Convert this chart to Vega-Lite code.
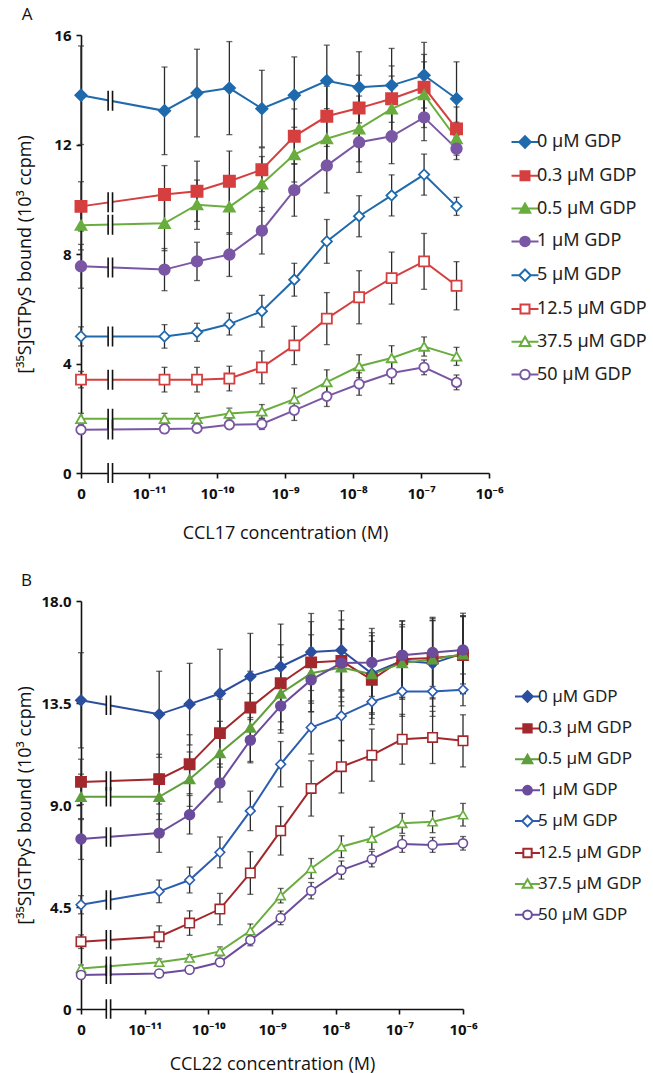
{
"$schema":"https://vega.github.io/schema/vega-lite/v6.json",
"background":"white",
"padding":{"left":16,"top":6,"right":0,"bottom":0},
"config":{"view":{"stroke":null},"font":"Open Sans",
"axis":{"domainColor":"#111","tickColor":"#111","domainWidth":1.6,"tickWidth":1.6,"tickSize":5,"grid":false,"labelFont":"Noto Sans","labelFontWeight":"bold","labelFontSize":15,"labelColor":"#111","titleFont":"Open Sans","titleFontWeight":"normal","titleFontSize":18,"titleColor":"#111","labelFlush":false},
"title":{"font":"Open Sans","fontSize":17,"fontWeight":"normal","anchor":"start","frame":"bounds","color":"#111","offset":0,"dx":5}},
"datasets":{
"pts":[
{"p":"A","g":"0 µM GDP","c":1e-12,"m":13.8,"e":1.8},{"p":"A","g":"0 µM GDP","c":1.69e-11,"m":13.23,"e":1.6},{"p":"A","g":"0 µM GDP","c":5.08e-11,"m":13.88,"e":1.6},{"p":"A","g":"0 µM GDP","c":1.52e-10,"m":14.06,"e":1.7},{"p":"A","g":"0 µM GDP","c":4.57e-10,"m":13.31,"e":1.4},{"p":"A","g":"0 µM GDP","c":1.37e-9,"m":13.8,"e":1.4},{"p":"A","g":"0 µM GDP","c":4.12e-9,"m":14.33,"e":1.3},{"p":"A","g":"0 µM GDP","c":1.23e-8,"m":14.09,"e":1.3},{"p":"A","g":"0 µM GDP","c":3.7e-8,"m":14.16,"e":1.35},{"p":"A","g":"0 µM GDP","c":1.11e-7,"m":14.53,"e":1.2},{"p":"A","g":"0 µM GDP","c":3.33e-7,"m":13.67,"e":1.35},
{"p":"A","g":"0.3 µM GDP","c":1e-12,"m":9.74,"e":0.9},{"p":"A","g":"0.3 µM GDP","c":1.69e-11,"m":10.17,"e":1.06},{"p":"A","g":"0.3 µM GDP","c":5.08e-11,"m":10.29,"e":1.1},{"p":"A","g":"0.3 µM GDP","c":1.52e-10,"m":10.66,"e":1.1},{"p":"A","g":"0.3 µM GDP","c":4.57e-10,"m":11.08,"e":0.8},{"p":"A","g":"0.3 µM GDP","c":1.37e-9,"m":12.3,"e":1.0},{"p":"A","g":"0.3 µM GDP","c":4.12e-9,"m":13.03,"e":1.1},{"p":"A","g":"0.3 µM GDP","c":1.23e-8,"m":13.33,"e":1.2},{"p":"A","g":"0.3 µM GDP","c":3.7e-8,"m":13.67,"e":1.2},{"p":"A","g":"0.3 µM GDP","c":1.11e-7,"m":14.09,"e":1.2},{"p":"A","g":"0.3 µM GDP","c":3.33e-7,"m":12.57,"e":0.8},
{"p":"A","g":"0.5 µM GDP","c":1e-12,"m":9.05,"e":0.9},{"p":"A","g":"0.5 µM GDP","c":1.69e-11,"m":9.12,"e":1.0},{"p":"A","g":"0.5 µM GDP","c":5.08e-11,"m":9.8,"e":0.9},{"p":"A","g":"0.5 µM GDP","c":1.52e-10,"m":9.72,"e":1.0},{"p":"A","g":"0.5 µM GDP","c":4.57e-10,"m":10.56,"e":1.0},{"p":"A","g":"0.5 µM GDP","c":1.37e-9,"m":11.63,"e":1.0},{"p":"A","g":"0.5 µM GDP","c":4.12e-9,"m":12.21,"e":1.1},{"p":"A","g":"0.5 µM GDP","c":1.23e-8,"m":12.57,"e":1.2},{"p":"A","g":"0.5 µM GDP","c":3.7e-8,"m":13.3,"e":1.2},{"p":"A","g":"0.5 µM GDP","c":1.11e-7,"m":13.82,"e":1.2},{"p":"A","g":"0.5 µM GDP","c":3.33e-7,"m":12.21,"e":0.6},
{"p":"A","g":"1 µM GDP","c":1e-12,"m":7.55,"e":0.8},{"p":"A","g":"1 µM GDP","c":1.69e-11,"m":7.43,"e":0.77},{"p":"A","g":"1 µM GDP","c":5.08e-11,"m":7.73,"e":0.7},{"p":"A","g":"1 µM GDP","c":1.52e-10,"m":7.98,"e":0.8},{"p":"A","g":"1 µM GDP","c":4.57e-10,"m":8.85,"e":0.85},{"p":"A","g":"1 µM GDP","c":1.37e-9,"m":10.33,"e":0.95},{"p":"A","g":"1 µM GDP","c":4.12e-9,"m":11.23,"e":1.0},{"p":"A","g":"1 µM GDP","c":1.23e-8,"m":12.08,"e":1.1},{"p":"A","g":"1 µM GDP","c":3.7e-8,"m":12.3,"e":1.0},{"p":"A","g":"1 µM GDP","c":1.11e-7,"m":12.99,"e":0.85},{"p":"A","g":"1 µM GDP","c":3.33e-7,"m":11.85,"e":0.4},
{"p":"A","g":"5 µM GDP","c":1e-12,"m":4.99,"e":0.35},{"p":"A","g":"5 µM GDP","c":1.69e-11,"m":4.99,"e":0.43},{"p":"A","g":"5 µM GDP","c":5.08e-11,"m":5.14,"e":0.33},{"p":"A","g":"5 µM GDP","c":1.52e-10,"m":5.44,"e":0.4},{"p":"A","g":"5 µM GDP","c":4.57e-10,"m":5.91,"e":0.58},{"p":"A","g":"5 µM GDP","c":1.37e-9,"m":7.06,"e":0.6},{"p":"A","g":"5 µM GDP","c":4.12e-9,"m":8.46,"e":0.8},{"p":"A","g":"5 µM GDP","c":1.23e-8,"m":9.38,"e":0.75},{"p":"A","g":"5 µM GDP","c":3.7e-8,"m":10.14,"e":0.75},{"p":"A","g":"5 µM GDP","c":1.11e-7,"m":10.9,"e":0.75},{"p":"A","g":"5 µM GDP","c":3.33e-7,"m":9.74,"e":0.33},
{"p":"A","g":"12.5 µM GDP","c":1e-12,"m":3.41,"e":0.3},{"p":"A","g":"12.5 µM GDP","c":1.69e-11,"m":3.41,"e":0.45},{"p":"A","g":"12.5 µM GDP","c":5.08e-11,"m":3.41,"e":0.45},{"p":"A","g":"12.5 µM GDP","c":1.52e-10,"m":3.45,"e":0.45},{"p":"A","g":"12.5 µM GDP","c":4.57e-10,"m":3.86,"e":0.6},{"p":"A","g":"12.5 µM GDP","c":1.37e-9,"m":4.66,"e":0.7},{"p":"A","g":"12.5 µM GDP","c":4.12e-9,"m":5.64,"e":0.95},{"p":"A","g":"12.5 µM GDP","c":1.23e-8,"m":6.42,"e":0.97},{"p":"A","g":"12.5 µM GDP","c":3.7e-8,"m":7.12,"e":0.95},{"p":"A","g":"12.5 µM GDP","c":1.11e-7,"m":7.73,"e":1.02},{"p":"A","g":"12.5 µM GDP","c":3.33e-7,"m":6.84,"e":0.88},
{"p":"A","g":"37.5 µM GDP","c":1e-12,"m":1.98,"e":0.2},{"p":"A","g":"37.5 µM GDP","c":1.69e-11,"m":1.98,"e":0.2},{"p":"A","g":"37.5 µM GDP","c":5.08e-11,"m":1.98,"e":0.2},{"p":"A","g":"37.5 µM GDP","c":1.52e-10,"m":2.17,"e":0.2},{"p":"A","g":"37.5 µM GDP","c":4.57e-10,"m":2.25,"e":0.25},{"p":"A","g":"37.5 µM GDP","c":1.37e-9,"m":2.7,"e":0.4},{"p":"A","g":"37.5 µM GDP","c":4.12e-9,"m":3.32,"e":0.45},{"p":"A","g":"37.5 µM GDP","c":1.23e-8,"m":3.9,"e":0.42},{"p":"A","g":"37.5 µM GDP","c":3.7e-8,"m":4.2,"e":0.45},{"p":"A","g":"37.5 µM GDP","c":1.11e-7,"m":4.62,"e":0.35},{"p":"A","g":"37.5 µM GDP","c":3.33e-7,"m":4.26,"e":0.33},
{"p":"A","g":"50 µM GDP","c":1e-12,"m":1.58,"e":0.15},{"p":"A","g":"50 µM GDP","c":1.69e-11,"m":1.61,"e":0.15},{"p":"A","g":"50 µM GDP","c":5.08e-11,"m":1.63,"e":0.15},{"p":"A","g":"50 µM GDP","c":1.52e-10,"m":1.76,"e":0.15},{"p":"A","g":"50 µM GDP","c":4.57e-10,"m":1.79,"e":0.2},{"p":"A","g":"50 µM GDP","c":1.37e-9,"m":2.29,"e":0.37},{"p":"A","g":"50 µM GDP","c":4.12e-9,"m":2.8,"e":0.37},{"p":"A","g":"50 µM GDP","c":1.23e-8,"m":3.25,"e":0.41},{"p":"A","g":"50 µM GDP","c":3.7e-8,"m":3.65,"e":0.39},{"p":"A","g":"50 µM GDP","c":1.11e-7,"m":3.86,"e":0.27},{"p":"A","g":"50 µM GDP","c":3.33e-7,"m":3.31,"e":0.27},
{"p":"B","g":"0 µM GDP","c":1e-12,"m":13.62,"e":2.1},{"p":"B","g":"0 µM GDP","c":1.69e-11,"m":13.0,"e":1.9},{"p":"B","g":"0 µM GDP","c":5.08e-11,"m":13.45,"e":1.8},{"p":"B","g":"0 µM GDP","c":1.52e-10,"m":13.92,"e":1.95},{"p":"B","g":"0 µM GDP","c":4.57e-10,"m":14.67,"e":1.9},{"p":"B","g":"0 µM GDP","c":1.37e-9,"m":15.1,"e":1.88},{"p":"B","g":"0 µM GDP","c":4.12e-9,"m":15.75,"e":1.7},{"p":"B","g":"0 µM GDP","c":1.23e-8,"m":15.83,"e":1.74},{"p":"B","g":"0 µM GDP","c":3.7e-8,"m":14.8,"e":1.8},{"p":"B","g":"0 µM GDP","c":1.11e-7,"m":15.36,"e":1.6},{"p":"B","g":"0 µM GDP","c":3.33e-7,"m":15.25,"e":1.9},{"p":"B","g":"0 µM GDP","c":1e-6,"m":15.69,"e":1.77},
{"p":"B","g":"0.3 µM GDP","c":1e-12,"m":10.02,"e":1.0},{"p":"B","g":"0.3 µM GDP","c":1.69e-11,"m":10.14,"e":1.1},{"p":"B","g":"0.3 µM GDP","c":5.08e-11,"m":10.8,"e":1.3},{"p":"B","g":"0.3 µM GDP","c":1.52e-10,"m":12.17,"e":1.5},{"p":"B","g":"0.3 µM GDP","c":4.57e-10,"m":13.3,"e":1.6},{"p":"B","g":"0.3 µM GDP","c":1.37e-9,"m":14.37,"e":1.7},{"p":"B","g":"0.3 µM GDP","c":4.12e-9,"m":15.29,"e":1.8},{"p":"B","g":"0.3 µM GDP","c":1.23e-8,"m":15.36,"e":1.8},{"p":"B","g":"0.3 µM GDP","c":3.7e-8,"m":14.52,"e":1.7},{"p":"B","g":"0.3 µM GDP","c":1.11e-7,"m":15.43,"e":1.7},{"p":"B","g":"0.3 µM GDP","c":3.33e-7,"m":15.48,"e":1.8},{"p":"B","g":"0.3 µM GDP","c":1e-6,"m":15.61,"e":1.7},
{"p":"B","g":"0.5 µM GDP","c":1e-12,"m":9.36,"e":1.0},{"p":"B","g":"0.5 µM GDP","c":1.69e-11,"m":9.36,"e":1.0},{"p":"B","g":"0.5 µM GDP","c":5.08e-11,"m":10.14,"e":1.2},{"p":"B","g":"0.5 µM GDP","c":1.52e-10,"m":11.29,"e":1.4},{"p":"B","g":"0.5 µM GDP","c":4.57e-10,"m":12.42,"e":1.5},{"p":"B","g":"0.5 µM GDP","c":1.37e-9,"m":13.92,"e":1.6},{"p":"B","g":"0.5 µM GDP","c":4.12e-9,"m":14.81,"e":1.7},{"p":"B","g":"0.5 µM GDP","c":1.23e-8,"m":15.07,"e":1.7},{"p":"B","g":"0.5 µM GDP","c":3.7e-8,"m":14.77,"e":1.7},{"p":"B","g":"0.5 µM GDP","c":1.11e-7,"m":15.26,"e":1.6},{"p":"B","g":"0.5 µM GDP","c":3.33e-7,"m":15.43,"e":1.7},{"p":"B","g":"0.5 µM GDP","c":1e-6,"m":15.65,"e":1.7},
{"p":"B","g":"1 µM GDP","c":1e-12,"m":7.5,"e":0.9},{"p":"B","g":"1 µM GDP","c":1.69e-11,"m":7.76,"e":0.85},{"p":"B","g":"1 µM GDP","c":5.08e-11,"m":8.57,"e":0.85},{"p":"B","g":"1 µM GDP","c":1.52e-10,"m":9.97,"e":0.84},{"p":"B","g":"1 µM GDP","c":4.57e-10,"m":11.86,"e":1.0},{"p":"B","g":"1 µM GDP","c":1.37e-9,"m":13.37,"e":1.2},{"p":"B","g":"1 µM GDP","c":4.12e-9,"m":14.52,"e":1.4},{"p":"B","g":"1 µM GDP","c":1.23e-8,"m":15.26,"e":1.5},{"p":"B","g":"1 µM GDP","c":3.7e-8,"m":15.29,"e":1.5},{"p":"B","g":"1 µM GDP","c":1.11e-7,"m":15.61,"e":1.5},{"p":"B","g":"1 µM GDP","c":3.33e-7,"m":15.73,"e":1.5},{"p":"B","g":"1 µM GDP","c":1e-6,"m":15.84,"e":1.5},
{"p":"B","g":"5 µM GDP","c":1e-12,"m":4.6,"e":0.4},{"p":"B","g":"5 µM GDP","c":1.69e-11,"m":5.19,"e":0.5},{"p":"B","g":"5 µM GDP","c":5.08e-11,"m":5.69,"e":0.57},{"p":"B","g":"5 µM GDP","c":1.52e-10,"m":6.91,"e":0.68},{"p":"B","g":"5 µM GDP","c":4.57e-10,"m":8.74,"e":0.87},{"p":"B","g":"5 µM GDP","c":1.37e-9,"m":10.8,"e":1.0},{"p":"B","g":"5 µM GDP","c":4.12e-9,"m":12.42,"e":1.17},{"p":"B","g":"5 µM GDP","c":1.23e-8,"m":12.93,"e":1.1},{"p":"B","g":"5 µM GDP","c":3.7e-8,"m":13.55,"e":1.0},{"p":"B","g":"5 µM GDP","c":1.11e-7,"m":14.01,"e":1.1},{"p":"B","g":"5 µM GDP","c":3.33e-7,"m":14.01,"e":1.1},{"p":"B","g":"5 µM GDP","c":1e-6,"m":14.08,"e":0.7},
{"p":"B","g":"12.5 µM GDP","c":1e-12,"m":2.97,"e":0.3},{"p":"B","g":"12.5 µM GDP","c":1.69e-11,"m":3.19,"e":0.48},{"p":"B","g":"12.5 µM GDP","c":5.08e-11,"m":3.79,"e":0.54},{"p":"B","g":"12.5 µM GDP","c":1.52e-10,"m":4.41,"e":0.69},{"p":"B","g":"12.5 µM GDP","c":4.57e-10,"m":6.0,"e":0.94},{"p":"B","g":"12.5 µM GDP","c":1.37e-9,"m":7.86,"e":1.07},{"p":"B","g":"12.5 µM GDP","c":4.12e-9,"m":9.73,"e":1.22},{"p":"B","g":"12.5 µM GDP","c":1.23e-8,"m":10.69,"e":1.16},{"p":"B","g":"12.5 µM GDP","c":3.7e-8,"m":11.2,"e":1.15},{"p":"B","g":"12.5 µM GDP","c":1.11e-7,"m":11.9,"e":1.1},{"p":"B","g":"12.5 µM GDP","c":3.33e-7,"m":11.98,"e":1.15},{"p":"B","g":"12.5 µM GDP","c":1e-6,"m":11.83,"e":1.15},
{"p":"B","g":"37.5 µM GDP","c":1e-12,"m":1.79,"e":0.15},{"p":"B","g":"37.5 µM GDP","c":1.69e-11,"m":2.06,"e":0.15},{"p":"B","g":"37.5 µM GDP","c":5.08e-11,"m":2.25,"e":0.15},{"p":"B","g":"37.5 µM GDP","c":1.52e-10,"m":2.54,"e":0.2},{"p":"B","g":"37.5 µM GDP","c":4.57e-10,"m":3.45,"e":0.3},{"p":"B","g":"37.5 µM GDP","c":1.37e-9,"m":5.0,"e":0.32},{"p":"B","g":"37.5 µM GDP","c":4.12e-9,"m":6.2,"e":0.44},{"p":"B","g":"37.5 µM GDP","c":1.23e-8,"m":7.16,"e":0.48},{"p":"B","g":"37.5 µM GDP","c":3.7e-8,"m":7.53,"e":0.49},{"p":"B","g":"37.5 µM GDP","c":1.11e-7,"m":8.19,"e":0.44},{"p":"B","g":"37.5 µM GDP","c":3.33e-7,"m":8.26,"e":0.48},{"p":"B","g":"37.5 µM GDP","c":1e-6,"m":8.57,"e":0.5},
{"p":"B","g":"50 µM GDP","c":1e-12,"m":1.5,"e":0.12},{"p":"B","g":"50 µM GDP","c":1.69e-11,"m":1.57,"e":0.12},{"p":"B","g":"50 µM GDP","c":5.08e-11,"m":1.73,"e":0.12},{"p":"B","g":"50 µM GDP","c":1.52e-10,"m":2.06,"e":0.15},{"p":"B","g":"50 µM GDP","c":4.57e-10,"m":3.04,"e":0.25},{"p":"B","g":"50 µM GDP","c":1.37e-9,"m":4.02,"e":0.3},{"p":"B","g":"50 µM GDP","c":4.12e-9,"m":5.22,"e":0.36},{"p":"B","g":"50 µM GDP","c":1.23e-8,"m":6.13,"e":0.4},{"p":"B","g":"50 µM GDP","c":3.7e-8,"m":6.61,"e":0.34},{"p":"B","g":"50 µM GDP","c":1.11e-7,"m":7.28,"e":0.37},{"p":"B","g":"50 µM GDP","c":3.33e-7,"m":7.24,"e":0.33},{"p":"B","g":"50 µM GDP","c":1e-6,"m":7.31,"e":0.3}
],
"brk":[
{"p":"A","c":2.7e-12,"m":13.6},{"p":"A","c":2.7e-12,"m":9.89},{"p":"A","c":2.7e-12,"m":9.07},{"p":"A","c":2.7e-12,"m":7.51},{"p":"A","c":2.7e-12,"m":4.99},{"p":"A","c":2.7e-12,"m":3.41},{"p":"A","c":2.7e-12,"m":1.98},{"p":"A","c":2.7e-12,"m":1.59},{"p":"A","c":2.7e-12,"m":0},
{"p":"B","c":2.7e-12,"m":13.4},{"p":"B","c":2.7e-12,"m":10.06},{"p":"B","c":2.7e-12,"m":9.36},{"p":"B","c":2.7e-12,"m":7.59},{"p":"B","c":2.7e-12,"m":4.81},{"p":"B","c":2.7e-12,"m":3.05},{"p":"B","c":2.7e-12,"m":1.89},{"p":"B","c":2.7e-12,"m":1.53},{"p":"B","c":2.7e-12,"m":0}
]},
"columns":1,
"spacing":30,
"resolve":{"scale":{"stroke":"independent","fill":"independent","shape":"independent","size":"independent"}},
"concat":[
{"title":{"text":"A"},"width":408,"height":438,
"resolve":{"scale":{"stroke":"independent","fill":"independent","shape":"independent","size":"independent"}},
"layer":[
{"data":{"name":"pts"},"transform":[{"filter":"datum.p == 'A'"}],
"mark":{"type":"errorbar","ticks":true,"size":6,"thickness":1.3,"color":"#2a2a2a"},
"encoding":{"x":{"field":"c","type":"quantitative","scale":{"type":"log","domain":[1e-12,1e-6],"nice":false},"axis":{"values":[1e-12,1e-11,1e-10,1e-9,1e-8,1e-7,1e-6],"labelExpr":"datum.value < 5e-12 ? '0' : '10' + ['⁻¹¹','⁻¹⁰','⁻⁹','⁻⁸','⁻⁷','⁻⁶'][round(log(datum.value)/LN10)+11]","title":"CCL17 concentration (M)","labelPadding":8,"titlePadding":23}},
"y":{"field":"m","type":"quantitative","scale":{"domain":[0,16],"nice":false},"axis":{"values":[0,4,8,12,16],"title":"[³⁵S]GTPγS bound (10³ ccpm)","titlePadding":19,"labelPadding":5}},
"yError":{"field":"e"}}},
{"data":{"name":"pts"},"transform":[{"filter":"datum.p == 'A'"}],
"mark":{"type":"line","strokeWidth":2},
"encoding":{"x":{"field":"c","type":"quantitative","scale":{"type":"log","domain":[1e-12,1e-6],"nice":false}},"y":{"field":"m","type":"quantitative","scale":{"domain":[0,16],"nice":false}},
"stroke":{"field":"g","type":"nominal","scale":{"domain":["0 µM GDP","0.3 µM GDP","0.5 µM GDP","1 µM GDP","5 µM GDP","12.5 µM GDP","37.5 µM GDP","50 µM GDP"],"range":["#1f6aad","#d63f3f","#6aad3f","#7a57a4","#1f6aad","#d63f3f","#6aad3f","#7a57a4"]},"legend":null}}},
{"data":{"name":"brk"},"transform":[{"filter":"datum.p == 'A'"}],
"mark":{"type":"point","shape":"M-0.25,-0.4L0.25,-0.4L0.25,0.4L-0.25,0.4Z","size":400,"filled":true,"fill":"white","strokeWidth":0,"opacity":1},
"encoding":{"x":{"field":"c","type":"quantitative","scale":{"type":"log","domain":[1e-12,1e-6],"nice":false}},"y":{"field":"m","type":"quantitative","scale":{"domain":[0,16],"nice":false}}}},
{"data":{"name":"brk"},"transform":[{"filter":"datum.p == 'A'"}],
"mark":{"type":"point","shape":"M-0.22,-1L-0.22,1M0.22,-1L0.22,1","size":400,"filled":false,"stroke":"#111","strokeWidth":1.6,"opacity":1},
"encoding":{"x":{"field":"c","type":"quantitative","scale":{"type":"log","domain":[1e-12,1e-6],"nice":false}},"y":{"field":"m","type":"quantitative","scale":{"domain":[0,16],"nice":false}}}},
{"data":{"name":"pts"},"transform":[{"filter":"datum.p == 'A'"}],
"mark":{"type":"point","filled":true,"strokeWidth":1.8,"opacity":1},
"encoding":{"x":{"field":"c","type":"quantitative","scale":{"type":"log","domain":[1e-12,1e-6],"nice":false}},"y":{"field":"m","type":"quantitative","scale":{"domain":[0,16],"nice":false}},
"stroke":{"field":"g","type":"nominal","scale":{"domain":["0 µM GDP","0.3 µM GDP","0.5 µM GDP","1 µM GDP","5 µM GDP","12.5 µM GDP","37.5 µM GDP","50 µM GDP"],"range":["#1f6aad","#d63f3f","#6aad3f","#7a57a4","#1f6aad","#d63f3f","#6aad3f","#7a57a4"]},"legend":null},
"fill":{"field":"g","type":"nominal","scale":{"domain":["0 µM GDP","0.3 µM GDP","0.5 µM GDP","1 µM GDP","5 µM GDP","12.5 µM GDP","37.5 µM GDP","50 µM GDP"],"range":["#1f6aad","#d63f3f","#6aad3f","#7a57a4","#ffffff","#ffffff","#ffffff","#ffffff"]},"legend":null},
"shape":{"field":"g","type":"nominal","scale":{"domain":["0 µM GDP","0.3 µM GDP","0.5 µM GDP","1 µM GDP","5 µM GDP","12.5 µM GDP","37.5 µM GDP","50 µM GDP"],"range":["diamond","square","triangle-up","circle","diamond","square","triangle-up","circle"]},"legend":null},
"size":{"field":"g","type":"nominal","scale":{"domain":["0 µM GDP","0.3 µM GDP","0.5 µM GDP","1 µM GDP","5 µM GDP","12.5 µM GDP","37.5 µM GDP","50 µM GDP"],"range":[130,90,110,95,130,95,110,100]},"legend":null}}},
{"data":{"name":"pts"},"transform":[{"filter":"datum.p == 'A'"}],
"mark":{"type":"point","filled":true,"opacity":0,"size":100},
"encoding":{"x":{"field":"c","type":"quantitative","scale":{"type":"log","domain":[1e-12,1e-6],"nice":false}},"y":{"field":"m","type":"quantitative","scale":{"domain":[0,16],"nice":false}},
"stroke":{"field":"g","type":"nominal","scale":{"domain":["0 µM GDP","0.3 µM GDP","0.5 µM GDP","1 µM GDP","5 µM GDP","12.5 µM GDP","37.5 µM GDP","50 µM GDP"],"range":["#1f6aad","#d63f3f","#6aad3f","#7a57a4","#1f6aad","#d63f3f","#6aad3f","#7a57a4"]},"legend":{"orient":"none","legendX":435,"legendY":98,"title":null,"symbolSize":100,"symbolStrokeWidth":2,"symbolOpacity":1,"labelFont":"Noto Sans","labelFontSize":18,"labelColor":"#222","labelOffset":3,"rowPadding":14.8,"padding":0}},
"fill":{"field":"g","type":"nominal","scale":{"domain":["0 µM GDP","0.3 µM GDP","0.5 µM GDP","1 µM GDP","5 µM GDP","12.5 µM GDP","37.5 µM GDP","50 µM GDP"],"range":["#1f6aad","#d63f3f","#6aad3f","#7a57a4","#ffffff","#ffffff","#ffffff","#ffffff"]},"legend":{"orient":"none","legendX":435,"legendY":98,"title":null,"symbolSize":100,"symbolStrokeWidth":2,"symbolOpacity":1,"labelFont":"Noto Sans","labelFontSize":18,"labelColor":"#222","labelOffset":3,"rowPadding":14.8,"padding":0}},
"shape":{"field":"g","type":"nominal","scale":{"domain":["0 µM GDP","0.3 µM GDP","0.5 µM GDP","1 µM GDP","5 µM GDP","12.5 µM GDP","37.5 µM GDP","50 µM GDP"],"range":["M-2.7,0L-1.15,0M1.15,0L2.7,0M0,-1.15L1.15,0L0,1.15L-1.15,0Z","M-2.7,0L-0.9,0M0.9,0L2.7,0M-0.9,-0.9L0.9,-0.9L0.9,0.9L-0.9,0.9Z","M-2.7,0L-0.57,0M0.57,0L2.7,0M0,-1L1.05,0.85L-1.05,0.85Z","M-2.7,0L-0.95,0M0.95,0L2.7,0M-0.95,0A0.95,0.95,0,1,0,0.95,0A0.95,0.95,0,1,0,-0.95,0Z","M-2.7,0L-1.15,0M1.15,0L2.7,0M0,-1.15L1.15,0L0,1.15L-1.15,0Z","M-2.7,0L-0.9,0M0.9,0L2.7,0M-0.9,-0.9L0.9,-0.9L0.9,0.9L-0.9,0.9Z","M-2.7,0L-0.57,0M0.57,0L2.7,0M0,-1L1.05,0.85L-1.05,0.85Z","M-2.7,0L-0.95,0M0.95,0L2.7,0M-0.95,0A0.95,0.95,0,1,0,0.95,0A0.95,0.95,0,1,0,-0.95,0Z"]},"legend":{"orient":"none","legendX":435,"legendY":98,"title":null,"symbolSize":100,"symbolStrokeWidth":2,"symbolOpacity":1,"labelFont":"Noto Sans","labelFontSize":18,"labelColor":"#222","labelOffset":3,"rowPadding":14.8,"padding":0}}}}
]},
{"title":{"text":"B"},"width":382,"height":408,
"resolve":{"scale":{"stroke":"independent","fill":"independent","shape":"independent","size":"independent"}},
"layer":[
{"data":{"name":"pts"},"transform":[{"filter":"datum.p == 'B'"}],
"mark":{"type":"errorbar","ticks":true,"size":6,"thickness":1.3,"color":"#2a2a2a"},
"encoding":{"x":{"field":"c","type":"quantitative","scale":{"type":"log","domain":[1e-12,1e-6],"nice":false},"axis":{"values":[1e-12,1e-11,1e-10,1e-9,1e-8,1e-7,1e-6],"labelExpr":"datum.value < 5e-12 ? '0' : '10' + ['⁻¹¹','⁻¹⁰','⁻⁹','⁻⁸','⁻⁷','⁻⁶'][round(log(datum.value)/LN10)+11]","title":"CCL22 concentration (M)","labelPadding":8,"titlePadding":18}},
"y":{"field":"m","type":"quantitative","scale":{"domain":[0,18],"nice":false},"axis":{"values":[0,4.5,9,13.5,18],"labelExpr":"datum.value == 0 ? '0' : format(datum.value, '.1f')","title":"[³⁵S]GTPγS bound (10³ ccpm)","titlePadding":7,"labelPadding":5}},
"yError":{"field":"e"}}},
{"data":{"name":"pts"},"transform":[{"filter":"datum.p == 'B'"}],
"mark":{"type":"line","strokeWidth":2},
"encoding":{"x":{"field":"c","type":"quantitative","scale":{"type":"log","domain":[1e-12,1e-6],"nice":false}},"y":{"field":"m","type":"quantitative","scale":{"domain":[0,18],"nice":false}},
"stroke":{"field":"g","type":"nominal","scale":{"domain":["0 µM GDP","0.3 µM GDP","0.5 µM GDP","1 µM GDP","5 µM GDP","12.5 µM GDP","37.5 µM GDP","50 µM GDP"],"range":["#2b4f9e","#a3282d","#5f9e3a","#6b4c9c","#2b5db0","#a3282d","#6aad3f","#6b4c9c"]},"legend":null}}},
{"data":{"name":"brk"},"transform":[{"filter":"datum.p == 'B'"}],
"mark":{"type":"point","shape":"M-0.25,-0.4L0.25,-0.4L0.25,0.4L-0.25,0.4Z","size":380,"filled":true,"fill":"white","strokeWidth":0,"opacity":1},
"encoding":{"x":{"field":"c","type":"quantitative","scale":{"type":"log","domain":[1e-12,1e-6],"nice":false}},"y":{"field":"m","type":"quantitative","scale":{"domain":[0,18],"nice":false}}}},
{"data":{"name":"brk"},"transform":[{"filter":"datum.p == 'B'"}],
"mark":{"type":"point","shape":"M-0.22,-1L-0.22,1M0.22,-1L0.22,1","size":380,"filled":false,"stroke":"#111","strokeWidth":1.6,"opacity":1},
"encoding":{"x":{"field":"c","type":"quantitative","scale":{"type":"log","domain":[1e-12,1e-6],"nice":false}},"y":{"field":"m","type":"quantitative","scale":{"domain":[0,18],"nice":false}}}},
{"data":{"name":"pts"},"transform":[{"filter":"datum.p == 'B'"}],
"mark":{"type":"point","filled":true,"strokeWidth":1.6,"opacity":1},
"encoding":{"x":{"field":"c","type":"quantitative","scale":{"type":"log","domain":[1e-12,1e-6],"nice":false}},"y":{"field":"m","type":"quantitative","scale":{"domain":[0,18],"nice":false}},
"stroke":{"field":"g","type":"nominal","scale":{"domain":["0 µM GDP","0.3 µM GDP","0.5 µM GDP","1 µM GDP","5 µM GDP","12.5 µM GDP","37.5 µM GDP","50 µM GDP"],"range":["#2b4f9e","#a3282d","#5f9e3a","#6b4c9c","#2b5db0","#a3282d","#6aad3f","#6b4c9c"]},"legend":null},
"fill":{"field":"g","type":"nominal","scale":{"domain":["0 µM GDP","0.3 µM GDP","0.5 µM GDP","1 µM GDP","5 µM GDP","12.5 µM GDP","37.5 µM GDP","50 µM GDP"],"range":["#2b4f9e","#a3282d","#5f9e3a","#6b4c9c","#ffffff","#ffffff","#ffffff","#ffffff"]},"legend":null},
"shape":{"field":"g","type":"nominal","scale":{"domain":["0 µM GDP","0.3 µM GDP","0.5 µM GDP","1 µM GDP","5 µM GDP","12.5 µM GDP","37.5 µM GDP","50 µM GDP"],"range":["diamond","square","triangle-up","circle","diamond","square","triangle-up","circle"]},"legend":null},
"size":{"field":"g","type":"nominal","scale":{"domain":["0 µM GDP","0.3 µM GDP","0.5 µM GDP","1 µM GDP","5 µM GDP","12.5 µM GDP","37.5 µM GDP","50 µM GDP"],"range":[110,80,95,85,90,95,95,95]},"legend":null}}},
{"data":{"name":"pts"},"transform":[{"filter":"datum.p == 'B'"}],
"mark":{"type":"point","filled":true,"opacity":0,"size":86},
"encoding":{"x":{"field":"c","type":"quantitative","scale":{"type":"log","domain":[1e-12,1e-6],"nice":false}},"y":{"field":"m","type":"quantitative","scale":{"domain":[0,18],"nice":false}},
"stroke":{"field":"g","type":"nominal","scale":{"domain":["0 µM GDP","0.3 µM GDP","0.5 µM GDP","1 µM GDP","5 µM GDP","12.5 µM GDP","37.5 µM GDP","50 µM GDP"],"range":["#2b4f9e","#a3282d","#5f9e3a","#6b4c9c","#2b5db0","#a3282d","#6aad3f","#6b4c9c"]},"legend":{"orient":"none","legendX":438,"legendY":87,"title":null,"symbolSize":86,"symbolStrokeWidth":2,"symbolOpacity":1,"labelFont":"Noto Sans","labelFontSize":17,"labelColor":"#222","labelOffset":2,"rowPadding":12.9,"padding":0}},
"fill":{"field":"g","type":"nominal","scale":{"domain":["0 µM GDP","0.3 µM GDP","0.5 µM GDP","1 µM GDP","5 µM GDP","12.5 µM GDP","37.5 µM GDP","50 µM GDP"],"range":["#2b4f9e","#a3282d","#5f9e3a","#6b4c9c","#ffffff","#ffffff","#ffffff","#ffffff"]},"legend":{"orient":"none","legendX":438,"legendY":87,"title":null,"symbolSize":86,"symbolStrokeWidth":2,"symbolOpacity":1,"labelFont":"Noto Sans","labelFontSize":17,"labelColor":"#222","labelOffset":2,"rowPadding":12.9,"padding":0}},
"shape":{"field":"g","type":"nominal","scale":{"domain":["0 µM GDP","0.3 µM GDP","0.5 µM GDP","1 µM GDP","5 µM GDP","12.5 µM GDP","37.5 µM GDP","50 µM GDP"],"range":["M-2.7,0L-1.15,0M1.15,0L2.7,0M0,-1.15L1.15,0L0,1.15L-1.15,0Z","M-2.7,0L-0.9,0M0.9,0L2.7,0M-0.9,-0.9L0.9,-0.9L0.9,0.9L-0.9,0.9Z","M-2.7,0L-0.57,0M0.57,0L2.7,0M0,-1L1.05,0.85L-1.05,0.85Z","M-2.7,0L-0.95,0M0.95,0L2.7,0M-0.95,0A0.95,0.95,0,1,0,0.95,0A0.95,0.95,0,1,0,-0.95,0Z","M-2.7,0L-1.15,0M1.15,0L2.7,0M0,-1.15L1.15,0L0,1.15L-1.15,0Z","M-2.7,0L-0.9,0M0.9,0L2.7,0M-0.9,-0.9L0.9,-0.9L0.9,0.9L-0.9,0.9Z","M-2.7,0L-0.57,0M0.57,0L2.7,0M0,-1L1.05,0.85L-1.05,0.85Z","M-2.7,0L-0.95,0M0.95,0L2.7,0M-0.95,0A0.95,0.95,0,1,0,0.95,0A0.95,0.95,0,1,0,-0.95,0Z"]},"legend":{"orient":"none","legendX":438,"legendY":87,"title":null,"symbolSize":86,"symbolStrokeWidth":2,"symbolOpacity":1,"labelFont":"Noto Sans","labelFontSize":17,"labelColor":"#222","labelOffset":2,"rowPadding":12.9,"padding":0}}}}
]}
]
}
